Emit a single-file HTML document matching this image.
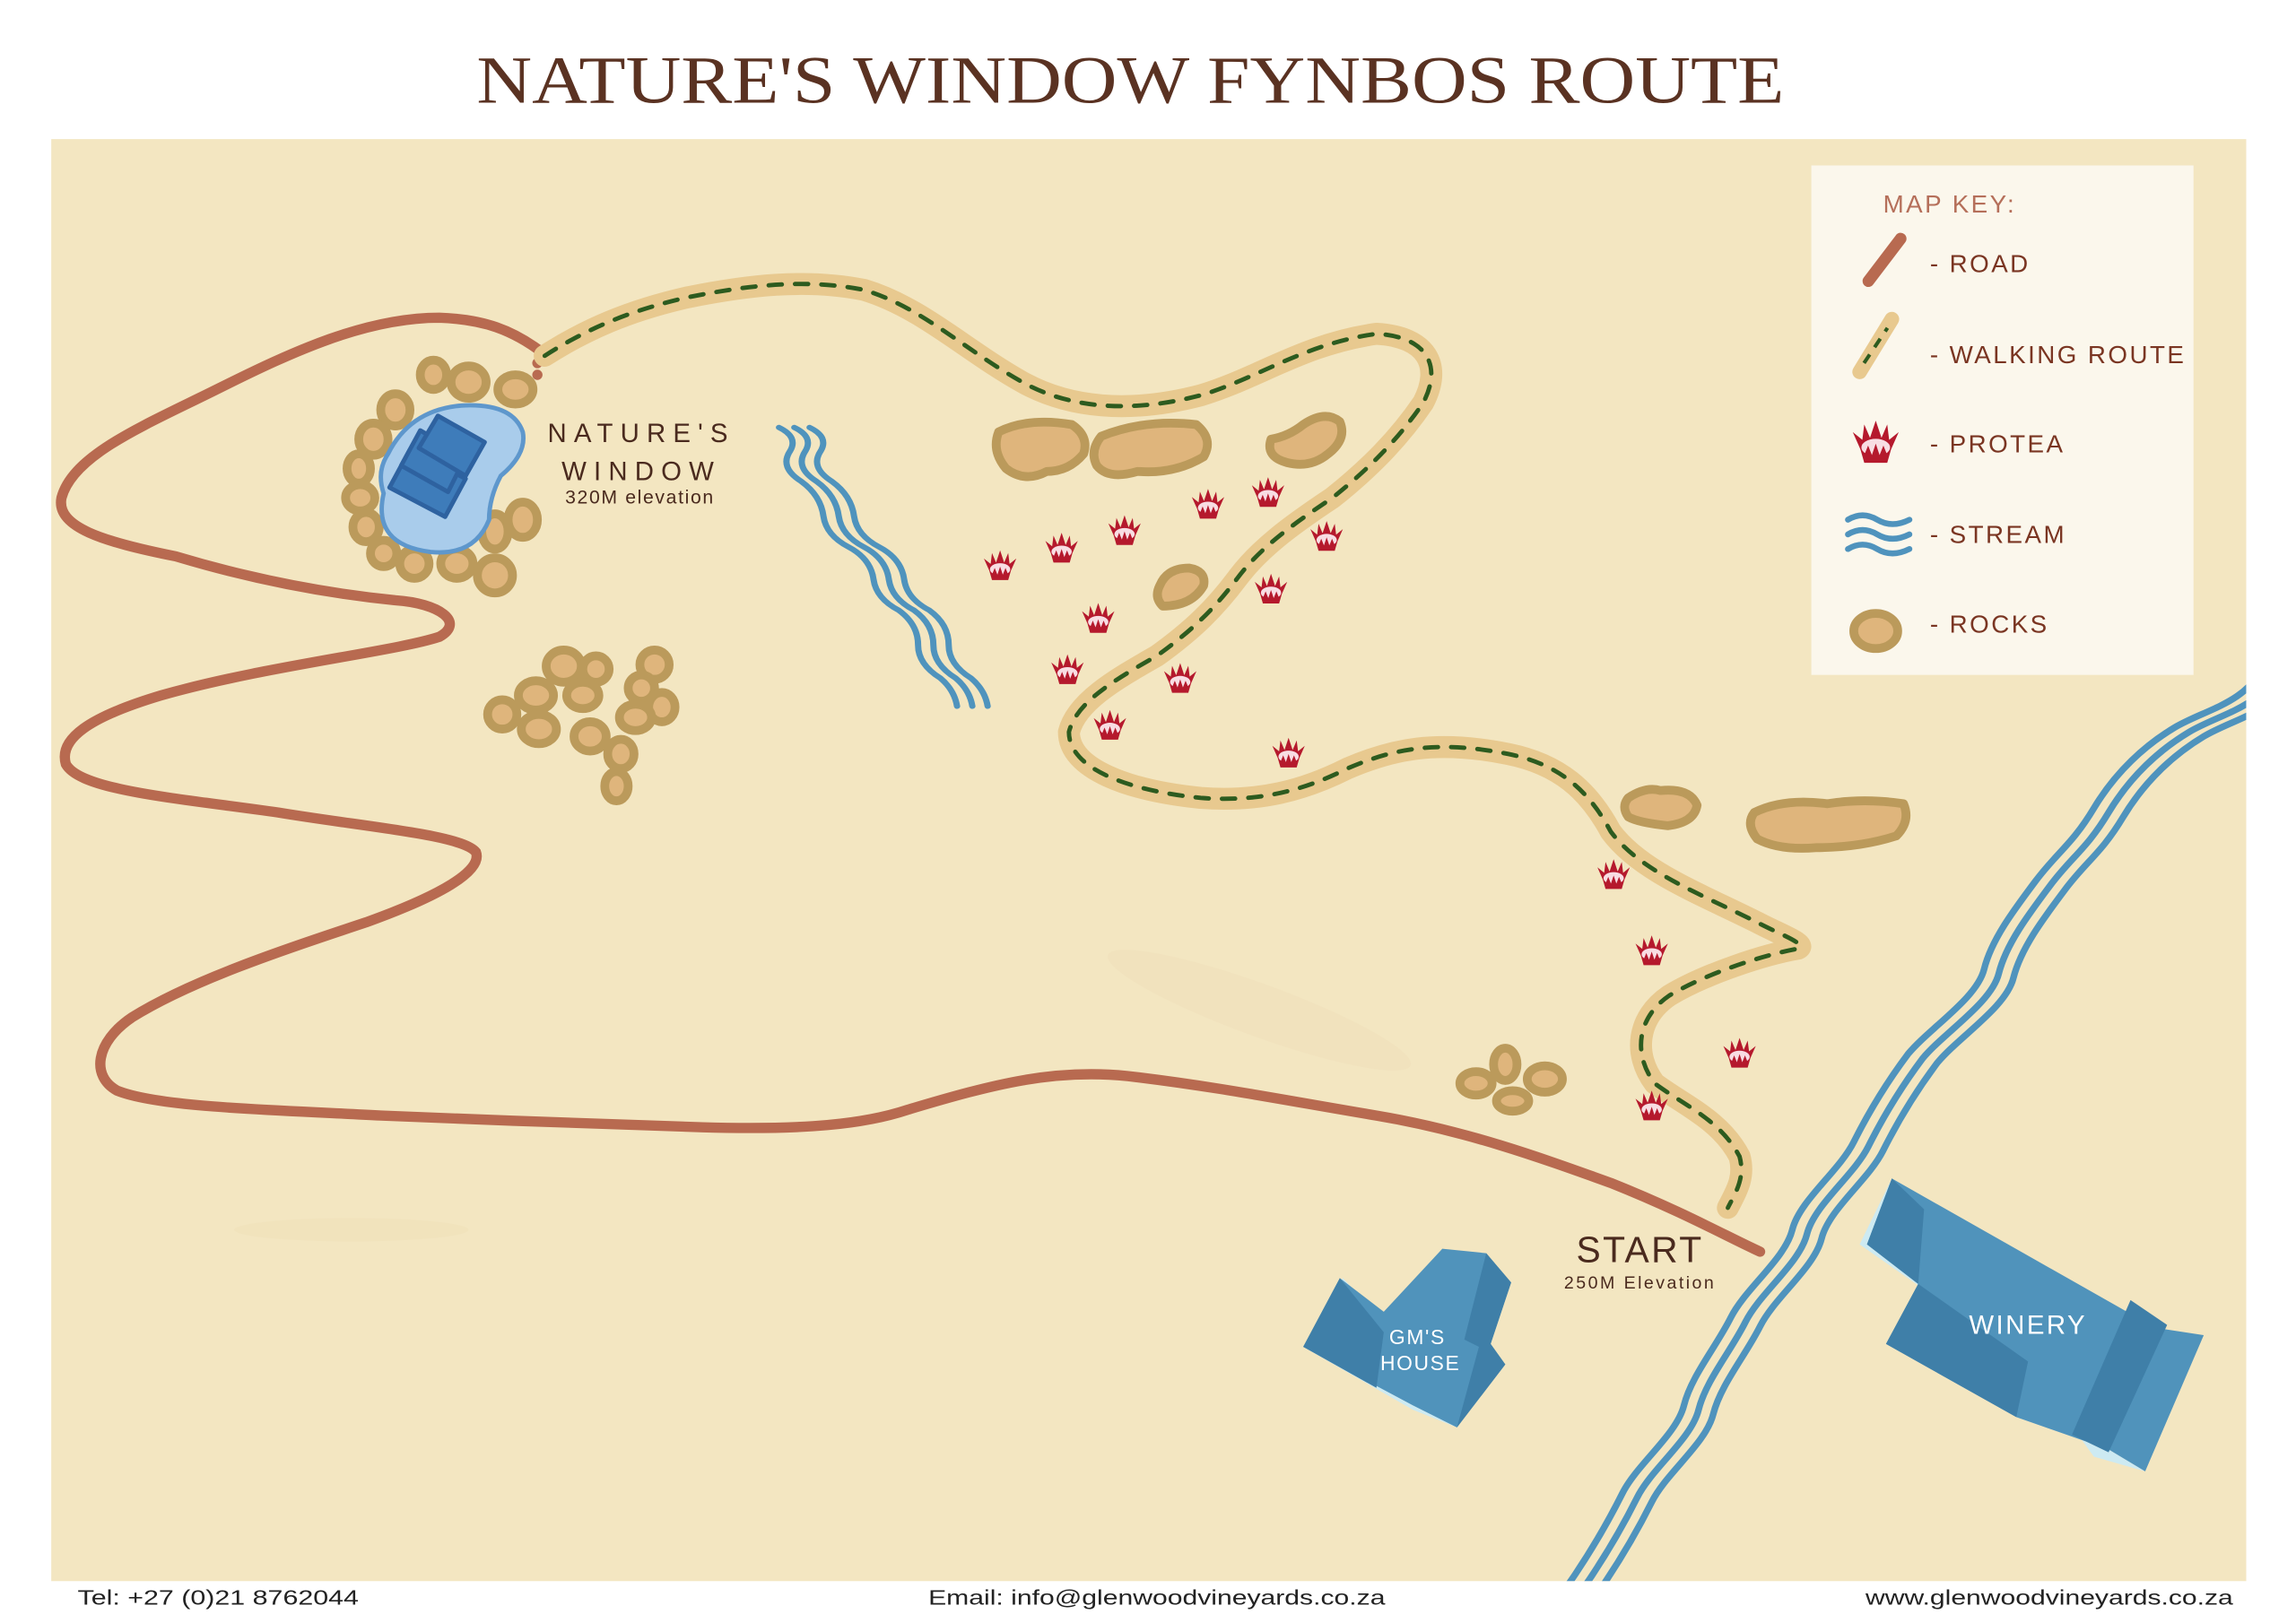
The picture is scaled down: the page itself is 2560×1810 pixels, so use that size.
<!DOCTYPE html>
<html><head><meta charset="utf-8"><style>
html,body{margin:0;padding:0;background:#fff;}
svg{display:block;}
text{font-family:"Liberation Sans",sans-serif;}
</style></head><body>
<svg width="2560" height="1810" viewBox="0 0 1568 1108.6" xmlns="http://www.w3.org/2000/svg">
<defs>
<clipPath id="mc"><rect x="35" y="95" width="1499" height="985"/></clipPath>
<symbol id="p" viewBox="-13 -13 26 26" overflow="visible">
<polygon points="-12,-6 -7,-2 -6,-10 -3,-3 0,-12 3,-3 6,-10 7,-2 12,-6 8,3 6,10 -6,10 -8,3" fill="#b5192d"/>
<ellipse cx="0" cy="2" rx="7.5" ry="4.5" fill="#f8dde3"/>
<polygon points="-6,6 -4,1 -2,6 0,0 2,6 4,1 6,6 5,8 -5,8" fill="#b5192d"/>
</symbol>
</defs>
<rect width="1568" height="1108.6" fill="#fff"/>
<text x="772" y="70" text-anchor="middle" font-size="46" fill="#5a3222" textLength="893" lengthAdjust="spacingAndGlyphs" style="font-family:'Liberation Serif',serif">NATURE'S WINDOW FYNBOS ROUTE</text>
<rect x="35" y="95" width="1499" height="985" fill="#f3e6c1"/>
<g clip-path="url(#mc)">
<ellipse cx="240" cy="840" rx="80" ry="8" fill="#efdcb5" opacity="0.35"/>
<ellipse cx="860" cy="690" rx="110" ry="18" fill="#efdcb5" opacity="0.3" transform="rotate(20 860 690)"/>
<!-- road -->
<path d="M372,242 C350,225 330,218 300,217 C250,217 200,240 150,265 C100,290 50,310 42,340 C38,360 70,370 120,380 C170,395 220,405 270,410 C300,412 318,425 300,435 C270,445 180,455 110,475 C60,490 40,505 45,522 C55,540 120,545 190,555 C250,565 315,570 325,582 C330,595 300,612 250,630 C190,650 130,670 90,695 C65,712 62,735 80,745 C110,757 190,758 260,762 C330,765 420,768 480,770 C550,772 590,768 620,758 C680,740 720,730 770,735 C830,742 880,752 940,762 C1000,772 1050,790 1100,808 C1150,828 1180,845 1202,855" fill="none" stroke="#b86a50" stroke-width="7" stroke-linecap="round"/>
<circle cx="367" cy="248" r="3.5" fill="#b86a50"/><circle cx="367" cy="256" r="3.5" fill="#b86a50"/>
<!-- walking route -->
<g fill="none" stroke-linecap="round" stroke-linejoin="round">
<path id="wr" d="M372,243 C400,225 430,212 470,203 C510,195 550,190 590,198 C630,210 660,240 700,262 C730,278 770,283 820,270 C860,258 890,235 940,228 C975,230 985,250 972,275 C955,300 935,320 910,340 C880,360 860,375 845,395 C830,415 815,430 790,448 C760,465 735,480 730,500 C730,525 770,540 820,545 C860,548 890,540 920,525 C950,512 980,505 1030,515 C1065,522 1085,540 1100,568 C1120,595 1160,610 1200,630 C1215,638 1235,645 1228,648 C1205,652 1165,665 1140,680 C1118,695 1115,720 1130,740 C1150,755 1175,765 1188,790 C1192,805 1185,815 1180,825"/>
<use href="#wr" stroke="#e8c98f" stroke-width="15"/>
<use href="#wr" stroke="#2d5b1f" stroke-width="3" stroke-dasharray="9 9"/>
</g>
<!-- left stream -->
<g fill="none" stroke="#4f93bd" stroke-width="4.5" stroke-linecap="round" transform="translate(532,292) scale(0.95,0.8) translate(-532,-292)">
<path id="ls" d="M532,292 q14,8 8,20 q-8,14 8,26 q14,12 16,30 q2,16 18,26 q16,10 18,28 q2,16 18,26 q14,12 14,30 q0,16 16,28 q10,10 12,24"/>
<use href="#ls" transform="translate(11,0)"/>
<use href="#ls" transform="translate(22,0)"/>
</g>
<!-- right stream -->
<g fill="none" stroke="#4f93bd" stroke-width="4.5" stroke-linecap="round">
<path id="rs" d="M1545,455 c-10,25 -40,30 -60,42 c-20,12 -40,30 -55,55 c-15,25 -25,30 -40,50 c-15,20 -30,40 -35,60 c-5,20 -37,40 -52,58 c-15,20 -27,40 -37,60 c-10,20 -37,40 -42,60 c-5,20 -32,40 -42,60 c-10,20 -27,40 -32,60 c-5,20 -32,40 -42,60 c-10,20 -22,40 -32,55 c-10,15 -22,30 -32,50"/>
<use href="#rs" transform="translate(10,3)"/>
<use href="#rs" transform="translate(20,6)"/>
</g>
<!-- rocks -->
<g fill="#dfb57c" stroke="#bb9a5b" stroke-width="6" stroke-linejoin="round">
<path d="M682,295 q20,-10 50,-5 q12,8 8,20 q-10,12 -25,12 q-15,8 -28,-2 q-10,-12 -5,-25z"/>
<path d="M752,298 q30,-12 65,-8 q12,10 5,22 q-20,12 -45,10 q-20,6 -28,-4 q-5,-10 3,-20z"/>
<path d="M868,300 q12,-2 22,-10 q15,-10 25,-2 q5,12 -8,22 q-12,10 -28,6 q-15,-4 -11,-16z"/>
<path d="M792,400 q5,-12 20,-12 q12,2 10,12 q-8,14 -28,14 q-6,-6 -2,-14z"/>
<path d="M1112,545 q12,-8 22,-5 q20,-2 25,10 q-2,12 -20,14 q-20,-2 -27,-6 q-5,-7 0,-13z"/>
<path d="M1198,555 q20,-10 50,-6 q25,-4 52,0 q5,12 -5,22 q-25,8 -55,8 q-25,2 -40,-6 q-8,-10 -2,-18z"/>
<ellipse cx="1008" cy="740" rx="11" ry="8"/><ellipse cx="1028" cy="727" rx="8" ry="11"/><ellipse cx="1055" cy="737" rx="12" ry="9"/><ellipse cx="1033" cy="752" rx="11" ry="7"/>
<ellipse cx="343" cy="488" rx="10" ry="10"/><ellipse cx="366" cy="475" rx="12" ry="10"/><ellipse cx="385" cy="455" rx="12" ry="11"/><ellipse cx="407" cy="457" rx="9" ry="9"/><ellipse cx="398" cy="475" rx="11" ry="9"/><ellipse cx="368" cy="498" rx="12" ry="10"/><ellipse cx="447" cy="454" rx="10" ry="10"/><ellipse cx="438" cy="470" rx="9" ry="9"/><ellipse cx="452" cy="483" rx="9" ry="10"/><ellipse cx="434" cy="490" rx="11" ry="9"/><ellipse cx="403" cy="503" rx="11" ry="10"/><ellipse cx="424" cy="515" rx="9" ry="10"/><ellipse cx="421" cy="537" rx="8" ry="10"/>
<ellipse cx="296" cy="256" rx="9" ry="10"/><ellipse cx="320" cy="261" rx="12" ry="11"/><ellipse cx="352" cy="266" rx="12" ry="10"/><ellipse cx="270" cy="280" rx="10" ry="11"/><ellipse cx="255" cy="300" rx="10" ry="11"/><ellipse cx="245" cy="320" rx="8" ry="10"/><ellipse cx="246" cy="340" rx="10" ry="9"/><ellipse cx="250" cy="360" rx="9" ry="10"/><ellipse cx="262" cy="378" rx="9" ry="9"/><ellipse cx="283" cy="385" rx="10" ry="10"/><ellipse cx="312" cy="385" rx="11" ry="10"/><ellipse cx="338" cy="393" rx="12" ry="12"/><ellipse cx="338" cy="363" rx="9" ry="12"/><ellipse cx="357" cy="355" rx="10" ry="12"/>
</g>
<path d="M265,310 q15,-30 50,-33 q35,-2 42,18 q3,15 -15,30 q-8,15 -8,30 q-10,25 -40,22 q-40,-5 -32,-40 q-5,-15 3,-27z" fill="#a9cceb" stroke="#5e97cc" stroke-width="3"/>
<g fill="#3e7cba" stroke="#2e62a0" stroke-width="3" stroke-linejoin="round">
<polygon points="266,333 280,307 318,327 304,353"/>
<polygon points="274,318 287,294 318,312 306,336"/>
<polygon points="286,306 299,284 331,302 318,325"/>
</g>
<g>
<use href="#p" x="671" y="375" width="24" height="24"/>
<use href="#p" x="713" y="363" width="24" height="24"/>
<use href="#p" x="756" y="351" width="24" height="24"/>
<use href="#p" x="813" y="333" width="24" height="24"/>
<use href="#p" x="854" y="325" width="24" height="24"/>
<use href="#p" x="894" y="355" width="24" height="24"/>
<use href="#p" x="856" y="391" width="24" height="24"/>
<use href="#p" x="738" y="411" width="24" height="24"/>
<use href="#p" x="717" y="446" width="24" height="24"/>
<use href="#p" x="794" y="452" width="24" height="24"/>
<use href="#p" x="746" y="484" width="24" height="24"/>
<use href="#p" x="868" y="503" width="24" height="24"/>
<use href="#p" x="1090" y="586" width="24" height="24"/>
<use href="#p" x="1116" y="638" width="24" height="24"/>
<use href="#p" x="1176" y="708" width="24" height="24"/>
<use href="#p" x="1116" y="744" width="24" height="24"/>
</g>
<!-- GM's house -->
<polygon points="917,873 890,920 965,963 995,975 1003,962" fill="#cdeaf2"/>
<polygon points="915,873 945,896 985,853 1015,856 1032,876 1018,918 1028,932 995,975 965,960 890,920" fill="#5093bb"/>
<polygon points="1015,856 1032,876 1018,918 1028,932 995,975 1010,920 1000,915" fill="#3f7fa8"/>
<polygon points="915,873 890,920 940,948 945,910" fill="#3f7fa8"/>
<!-- winery -->
<polygon points="1292,805 1270,850 1310,878 1288,918 1377,968 1440,990 1465,1005 1430,995" fill="#cdeaf2"/>
<polygon points="1292,805 1472,907 1505,912 1465,1005 1440,990 1377,968 1288,918 1310,877 1275,850" fill="#5093bb"/>
<polygon points="1455,888 1480,905 1440,992 1415,980" fill="#3f7fa8"/>
<polygon points="1292,805 1275,850 1310,877 1314,826" fill="#3f7fa8"/>
<polygon points="1310,877 1288,918 1377,968 1385,930" fill="#3f7fa8"/>
</g>
<g fill="#4a2a1e">
<text x="438" y="302" text-anchor="middle" font-size="18" letter-spacing="5">NATURE'S</text>
<text x="438" y="328" text-anchor="middle" font-size="18" letter-spacing="5">WINDOW</text>
<text x="437" y="344" text-anchor="middle" font-size="13" letter-spacing="1">320M elevation</text>
<text x="1120" y="862" text-anchor="middle" font-size="25" letter-spacing="1.5">START</text>
<text x="1120" y="880" text-anchor="middle" font-size="12" letter-spacing="1.5">250M Elevation</text>
</g>
<text x="968" y="918" text-anchor="middle" font-size="14" fill="#fff" letter-spacing="1">GM'S</text>
<text x="970" y="936" text-anchor="middle" font-size="14" fill="#fff" letter-spacing="1">HOUSE</text>
<text x="1385" y="911" text-anchor="middle" font-size="18" fill="#fff" letter-spacing="1.5">WINERY</text>
<rect x="1237" y="113" width="261" height="348" fill="#fbf7ec"/>
<text x="1286" y="145" font-size="17" fill="#b56f5a" letter-spacing="1.5">MAP KEY:</text>
<line x1="1276" y1="192" x2="1298" y2="163" stroke="#b86a50" stroke-width="8" stroke-linecap="round"/>
<line x1="1270" y1="254" x2="1292" y2="218" stroke="#e8c98f" stroke-width="10" stroke-linecap="round"/>
<line x1="1273" y1="248" x2="1289" y2="224" stroke="#2d5b1f" stroke-width="2.5" stroke-dasharray="7 6"/>
<use href="#p" x="1264" y="286" width="34" height="34"/>
<g fill="none" stroke="#4f93bd" stroke-width="4" stroke-linecap="round">
<path d="M1262,355 q10,-6 20,0 q10,6 22,0"/><path d="M1262,365 q10,-6 20,0 q10,6 22,0"/><path d="M1262,375 q10,-6 20,0 q10,6 22,0"/>
</g>
<ellipse cx="1281" cy="431" rx="15" ry="12" fill="#dfb57c" stroke="#bb9a5b" stroke-width="6"/>
<g fill="#7a3522" font-size="17" letter-spacing="1.5">
<text x="1318" y="186">- ROAD</text>
<text x="1318" y="248">- WALKING ROUTE</text>
<text x="1318" y="309">- PROTEA</text>
<text x="1318" y="371">- STREAM</text>
<text x="1318" y="432">- ROCKS</text>
</g>
<g fill="#222" font-size="14">
<text x="53" y="1096" textLength="192" lengthAdjust="spacingAndGlyphs">Tel: +27 (0)21 8762044</text>
<text x="634" y="1096" textLength="312" lengthAdjust="spacingAndGlyphs">Email: info@glenwoodvineyards.co.za</text>
<text x="1274" y="1096" textLength="251" lengthAdjust="spacingAndGlyphs">www.glenwoodvineyards.co.za</text>
</g>
</svg>
</body></html>
